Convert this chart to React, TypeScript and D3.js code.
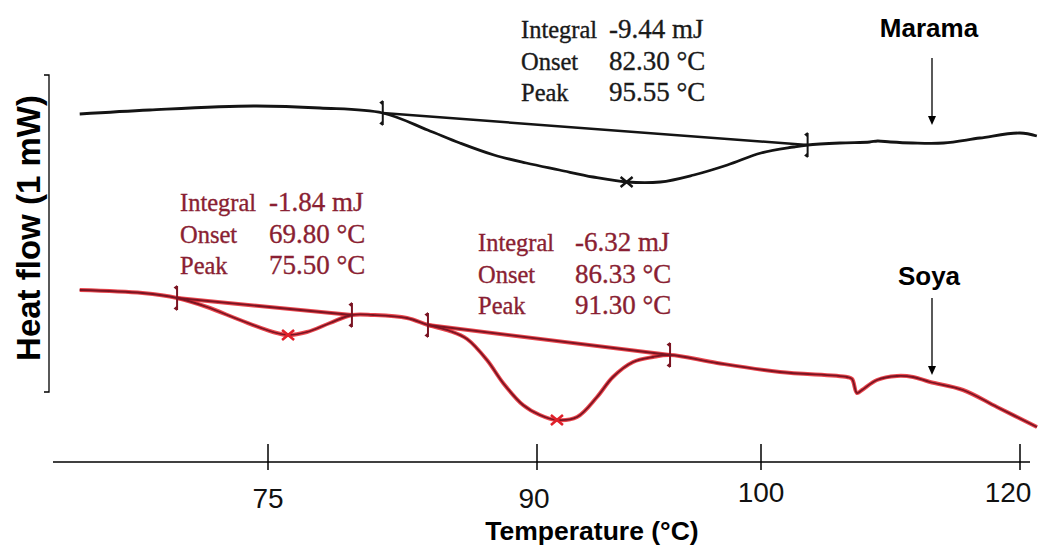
import React, { useEffect, useRef } from "react";
import * as d3 from "d3";

// ---------- data ----------
const xTickValues = [75, 90, 100, 120];
const xTickLabels = ["75", "90", "100", "120"];

// Temperature (°C), heat flow (arbitrary units, endotherm down)
const maramaCurve: [number, number][] = [
  [64.5, 27.8], [68.4, 28.2], [74.2, 28.6], [77.9, 28.4], [81.4, 27.9],
  [83.9, 26.2], [85.7, 24.9], [87.6, 23.7], [89.4, 22.9], [91.0, 22.2],
  [92.5, 21.5], [94.0, 21.0], [95.5, 21.0], [97.0, 21.7], [98.5, 22.7],
  [100.0, 23.9], [102.5, 24.5], [103.6, 24.7], [106.1, 24.9], [108.4, 25.0],
  [109.0, 25.1], [110.0, 25.0], [111.7, 24.9], [114.1, 24.9], [116.9, 25.4],
  [120.0, 25.9], [121.3, 25.6],
];
const soyaCurve: [number, number][] = [
  [64.5, 10.2], [68.0, 9.9], [69.93, 9.4], [71.6, 8.5], [73.44, 7.2],
  [75.28, 6.0], [76.12, 5.7], [77.17, 6.0], [78.46, 6.9], [79.68, 7.7],
  [80.86, 7.7], [82.75, 7.4], [83.92, 6.7], [85.15, 6.1], [86.1, 5.3],
  [87.21, 3.2], [88.11, 0.9], [89.22, -1.3], [90.13, -2.3], [90.89, -2.8],
  [91.79, -2.5], [92.68, -0.5], [93.39, 1.5], [94.29, 3.0], [95.18, 3.5],
  [95.94, 3.7], [98.04, 2.9], [101.47, 2.0], [106.64, 1.5], [107.03, 1.3],
  [107.41, -0.1], [107.8, 0.2], [108.96, 1.2], [110.5, 1.6], [111.74, 1.5],
  [113.05, 1.0], [115.6, 0.2], [118.22, -1.5], [121.31, -3.5],
];

// integration limits [start, end] and peaks
const maramaLimits: [number, number][] = [[81.4, 27.9], [103.6, 24.7]];
const maramaPeaks: [number, number][] = [[94.0, 21.0]];
const soyaLimits1: [number, number][] = [[69.93, 9.4], [79.68, 7.7]];
const soyaLimits2: [number, number][] = [[83.92, 6.7], [95.94, 3.7]];
const soyaPeaks: [number, number][] = [[76.12, 5.7], [90.89, -2.8]];

const maramaAnno = [["Integral", "-9.44 mJ"], ["Onset", "82.30 °C"], ["Peak", "95.55 °C"]];
const soyaAnno1 = [["Integral", "-1.84 mJ"], ["Onset", "69.80 °C"], ["Peak", "75.50 °C"]];
const soyaAnno2 = [["Integral", "-6.32 mJ"], ["Onset", "86.33 °C"], ["Peak", "91.30 °C"]];

const seriesNames = ["Marama", "Soya"];

// ---------- layout / style ----------
const W = 1038, H = 548;
const BLACK = "#141414";
const RED_GLOW = "#e5262e";
const RED_CORE = "#7a1422";
const RED_TEXT = "#8a1f33";
const tickLabelDy = [0, 0, -6, -6];
const tickLabelDx = [0, -3, 0, -12];

export default function App() {
  const ref = useRef<SVGSVGElement | null>(null);

  useEffect(() => {
    const svg = d3.select(ref.current);
    svg.selectAll("*").remove();

    const x = d3.scaleLinear().domain([75, 90, 100, 120]).range([268, 537, 761, 1020]);
    const y = d3.scaleLinear().domain([0, 31.7]).range([392, 75]);

    const line = d3.line<[number, number]>()
      .x(d => x(d[0])).y(d => y(d[1]))
      .curve(d3.curveCatmullRom.alpha(0.5));
    const straight = d3.line<[number, number]>().x(d => x(d[0])).y(d => y(d[1]));

    // X axis
    const axisG = svg.append("g").attr("transform", "translate(0,462)");
    axisG.append("line").attr("x1", 53).attr("x2", 1030).attr("y1", 0).attr("y2", 0)
      .attr("stroke", "#000").attr("stroke-width", 1.3);
    const ticks = axisG.selectAll("g.tick").data(xTickValues).enter().append("g")
      .attr("transform", d => `translate(${x(d)},0)`);
    ticks.append("line").attr("y1", -18).attr("y2", 8).attr("stroke", "#000").attr("stroke-width", 1.5);
    ticks.append("text")
      .attr("x", (_, i) => tickLabelDx[i])
      .attr("y", (_, i) => 46 + tickLabelDy[i])
      .attr("text-anchor", "middle")
      .attr("font-family", "Liberation Sans, Arial, sans-serif")
      .attr("font-size", 28)
      .attr("fill", "#111")
      .text((_, i) => xTickLabels[i]);
    svg.append("text").attr("x", 592).attr("y", 540).attr("text-anchor", "middle")
      .attr("font-family", "Liberation Sans, Arial, sans-serif").attr("font-weight", "bold")
      .attr("font-size", 26.5).attr("fill", "#000").text("Temperature (°C)");

    // Y axis bracket
    const y0 = y(0), y1 = y(31.7);
    svg.append("path")
      .attr("d", `M44,${y1}H49V${y0}H44`)
      .attr("fill", "none").attr("stroke", "#000").attr("stroke-width", 1.3);
    svg.append("text")
      .attr("transform", `translate(40,228) rotate(-90)`)
      .attr("text-anchor", "middle")
      .attr("font-family", "Liberation Sans, Arial, sans-serif").attr("font-weight", "bold")
      .attr("font-size", 33).attr("fill", "#000").text("Heat flow (1 mW)");

    // markers
    const drawLimit = (g: any, p: [number, number], color: string) => {
      const cx = x(p[0]), cy = y(p[1]);
      g.append("line").attr("x1", cx).attr("x2", cx).attr("y1", cy - 12).attr("y2", cy + 12)
        .attr("stroke", color).attr("stroke-width", 2);
      g.append("path").attr("d", `M${cx},${cy - 13}l-3.5,2.5l3.5,3z`).attr("fill", color);
      g.append("path").attr("d", `M${cx},${cy + 13}l-3.5,-2.5l3.5,-3z`).attr("fill", color);
    };
    const drawCross = (g: any, p: [number, number], color: string, w: number) => {
      const cx = x(p[0]), cy = y(p[1]);
      g.append("path").attr("d", `M${cx - 6},${cy - 5}L${cx + 6},${cy + 5}M${cx - 6},${cy + 5}L${cx + 6},${cy - 5}`)
        .attr("stroke", color).attr("stroke-width", w).attr("fill", "none");
    };

    // Marama
    const gm = svg.append("g");
    gm.append("path").attr("d", line(maramaCurve)!).attr("fill", "none")
      .attr("stroke", BLACK).attr("stroke-width", 2.8).attr("stroke-linejoin", "round");
    gm.append("path").attr("d", straight(maramaLimits)!).attr("fill", "none")
      .attr("stroke", BLACK).attr("stroke-width", 2.5);
    maramaLimits.forEach(p => drawLimit(gm, p, BLACK));
    maramaPeaks.forEach(p => drawCross(gm, p, BLACK, 2.4));

    // Soya
    const gs = svg.append("g");
    [RED_GLOW, RED_CORE].forEach((c, k) => {
      const sw = k === 0 ? 4 : 1.8;
      const op = k === 0 ? 0.85 : 1;
      gs.append("path").attr("d", line(soyaCurve)!).attr("fill", "none")
        .attr("stroke", c).attr("stroke-width", sw).attr("stroke-opacity", op).attr("stroke-linejoin", "round");
      [soyaLimits1, soyaLimits2].forEach(l => {
        gs.append("path").attr("d", straight(l)!).attr("fill", "none")
          .attr("stroke", c).attr("stroke-width", sw).attr("stroke-opacity", op);
      });
    });
    [...soyaLimits1, ...soyaLimits2].forEach(p => drawLimit(gs, p, RED_CORE));
    soyaPeaks.forEach(p => drawCross(gs, p, "#e0202a", 2.6));

    // annotations
    const drawAnno = (rows: string[][], x0: number, x1: number, yb: number, color: string) => {
      const g = svg.append("g").attr("font-family", "Liberation Serif, Times New Roman, serif")
        .attr("fill", color).attr("stroke", color).attr("stroke-width", 0.35);
      rows.forEach((r, i) => {
        g.append("text").attr("x", x0).attr("y", yb + i * 31.5).attr("font-size", 24.5).text(r[0]);
        g.append("text").attr("x", x1).attr("y", yb + i * 31.5).attr("font-size", 27).text(r[1]);
      });
    };
    drawAnno(maramaAnno, 521, 609, 38, "#1a1a1a");
    drawAnno(soyaAnno1, 180, 269, 211, RED_TEXT);
    drawAnno(soyaAnno2, 478, 575, 251, RED_TEXT);

    // series labels with arrows
    const labelPos = [[929, 37, 58, 125], [929, 285, 298, 375]];
    seriesNames.forEach((name, i) => {
      const [lx, ly, a0, a1] = labelPos[i];
      svg.append("text").attr("x", lx).attr("y", ly).attr("text-anchor", "middle")
        .attr("font-family", "Liberation Sans, Arial, sans-serif").attr("font-weight", "bold")
        .attr("font-size", 26).attr("fill", "#000").text(name);
      svg.append("line").attr("x1", lx + 3).attr("x2", lx + 3).attr("y1", a0).attr("y2", a1 - 8)
        .attr("stroke", "#000").attr("stroke-width", 1.3);
      svg.append("path").attr("d", `M${lx + 3 - 4},${a1 - 9}L${lx + 3 + 4},${a1 - 9}L${lx + 3},${a1}Z`)
        .attr("fill", "#000");
    });
  }, []);

  return (
    <svg ref={ref} width={W} height={H}
      style={{ position: "absolute", left: 0, top: 0, background: "#fff", display: "block" }} />
  );
}
